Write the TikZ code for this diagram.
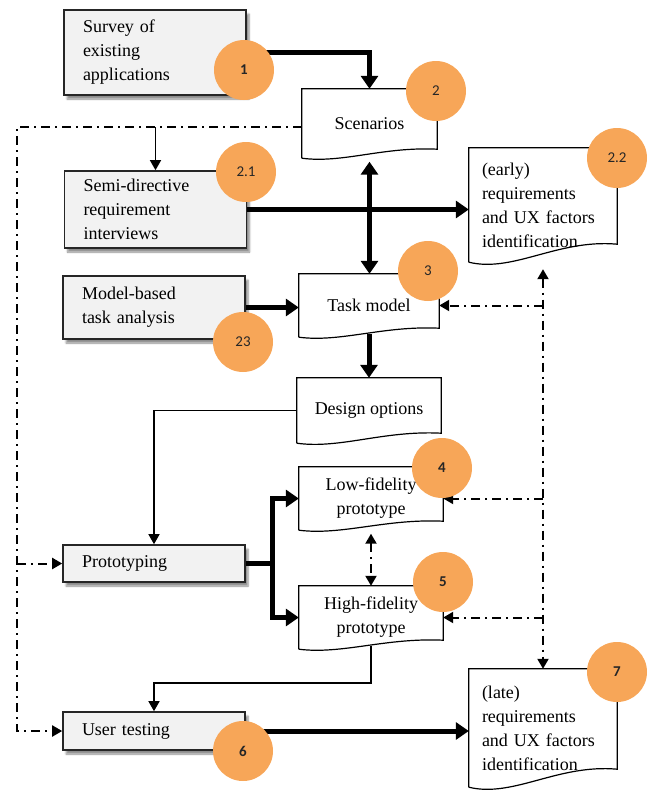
\documentclass[tikz,border=0pt]{standalone}
\usepackage{fontspec}
\setmainfont{Liberation Serif}
\newfontfamily\badgefont{Carlito}
\usepackage{tikz}
\usetikzlibrary{arrows.meta, positioning, calc, shadows.blur}
\definecolor{badgeorange}{HTML}{F7A658}
\definecolor{boxgray}{HTML}{F2F2F2}
\definecolor{edgegray}{HTML}{262626}
\tikzset{
  proc/.style={rectangle, draw=edgegray, line width=1.6pt, fill=boxgray,
    blur shadow={shadow xshift=3pt, shadow yshift=-4pt, shadow blur steps=6, shadow opacity=45},
    font=\fontsize{18}{24}\selectfont, align=left, text width=144pt,
    inner xsep=19pt, inner ysep=0pt, minimum width=182pt},
  docn/.style={rectangle, inner sep=0pt, align=center, font=\fontsize{18}{24}\selectfont},
  docline/.style={draw=black, line width=1.2pt, line join=miter},
  badge/.style={circle, fill=badgeorange, minimum size=60pt, inner sep=0pt, text=black!85,
    font=\badgefont\fontsize{15}{16}\selectfont},
  ar/thick/.style={draw=black, line width=5pt, >={Triangle[length=13pt,width=17pt]}},
  ar/thin/.style={draw=black, line width=1.5pt, >={Triangle[length=10pt,width=11pt]}},
  ar/dd/.style={draw=black, line width=2pt, dash pattern=on 9pt off 5pt on 2pt off 5pt,
    >={Triangle[length=10pt,width=11pt]}},
}
% document outline with a wavy bottom edge
\newcommand{\docshape}[2]{%
  \draw[docline] (#1.south west) -- (#1.north west) -- (#1.north east) -- ([yshift=#2]#1.south east)
    .. controls ($(#1.south east)!0.4!(#1.south west)+(0pt,1.3*#2)$)
       and ($(#1.south east)!0.7!(#1.south west)+(0pt,-0.6*#2)$) .. (#1.south west);}

\begin{document}
\begin{tikzpicture}[x=1pt, y=-1pt]
  \useasboundingbox (0,0) rectangle (649,790);

  % activities
  \node[proc, minimum height=85pt] (survey) at (155,52.5) {Survey of\\existing\\applications};
  \node[proc, minimum height=77pt] (semi) at (155.5,209.5) {Semi-directive\\requirement\\interviews};
  \node[proc, minimum height=63pt] (model) at (154,307.5) {Model-based\\task analysis};
  \node[proc, minimum height=37pt] (proto) at (154,563.5) {Prototyping};
  \node[proc, minimum height=38pt] (user) at (154,731) {User testing};

  % artefacts
  \node[docn, minimum width=135pt, minimum height=69pt] (scen) at (369.5,123.5) {Scenarios};
  \node[docn, minimum width=148pt, minimum height=114pt, text width=122pt, align=left] (early)
    at (543,205) {(early)\\requirements\\and UX factors\\identification};
  \node[docn, minimum width=140pt, minimum height=63pt] (task) at (369,305.5) {Task model};
  \node[docn, minimum width=144pt, minimum height=65pt] (design) at (369,410.5) {Design options};
  \node[docn, minimum width=144pt, minimum height=63pt] (low) at (371,498.5) {Low-fidelity\\prototype};
  \node[docn, minimum width=144pt, minimum height=63pt] (high) at (371,617.5) {High-fidelity\\prototype};
  \node[docn, minimum width=148pt, minimum height=118pt, text width=122pt, align=left] (late)
    at (543,728) {(late)\\requirements\\and UX factors\\identification};
  \foreach \n/\d in {scen/9pt, early/18pt, task/9pt, design/10pt, low/9pt, high/9pt, late/18pt}
    \docshape{\n}{\d};

  % main flow
  \draw[ar/thick,->] (survey.east) -| (scen.north);
  \draw[ar/thick,<->,shorten <=3.5pt] (scen.south) -- (scen.south |- task.north);
  \draw[ar/thick,->] (semi.east) -- (semi.east -| early.west);
  \draw[ar/thick,->] (model.east) -- (model.east -| task.west);
  \draw[ar/thick,->] ([yshift=3pt]task.south) -- (task.south |- design.north);
  \draw[ar/thin,->] (design.west) -| (proto.north);
  \coordinate (fork) at (272,563.5);
  \draw[ar/thick,->] (proto.east) -- (fork) |- (low.west);
  \draw[ar/thick,->] (fork) |- (high.west);
  \draw[ar/dd,<->,shorten <=3.5pt] (low.south) -- (low.south |- high.north);
  \coordinate (hturn) at (371,683);
  \draw[ar/thin,->] ([yshift=3pt]high.south) -- (hturn) -| (user.north);
  \draw[ar/thick,->] (user.east) -- (user.east -| late.west);

  % feedback loops
  \coordinate (loop) at (17,127);
  \draw[ar/dd,->] (scen.west |- loop) -- (loop) |- (user.west);
  \draw[ar/dd,->] (loop |- proto.west) -- (proto.west);
  \draw[ar/thin,->] (semi.north |- loop) -- (semi.north);
  \draw[ar/dd,<->,shorten <=7pt] (early.south) -- (late.north);
  \draw[ar/dd,->] (early.south |- task.east) -- (task.east);
  \draw[ar/dd,->] (early.south |- low.east) -- (low.east);
  \draw[ar/dd,->] (early.south |- high.east) -- (high.east);

  % step numbers
  \node[badge] (c1) at (244,70) {\bfseries 1};
  \node[badge] (c2) at (436,91) {2};
  \node[badge] (c21) at (246,172) {2.1};
  \node[badge] (c22) at (617,158) {2.2};
  \node[badge] (c3) at (428,271) {3};
  \node[badge] (c23) at (243,342) {23};
  \node[badge] (c4) at (442,468) {\bfseries 4};
  \node[badge] (c5) at (443,582) {\bfseries 5};
  \node[badge] (c6) at (243,751) {\bfseries 6};
  \node[badge] (c7) at (617,672) {\bfseries 7};
\end{tikzpicture}
\end{document}
